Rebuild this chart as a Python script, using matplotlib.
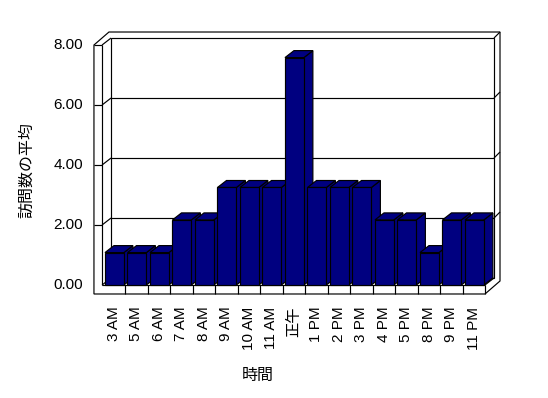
import matplotlib
matplotlib.use("Agg")
import matplotlib.pyplot as plt
from matplotlib.patches import Polygon

categories = ["3 AM", "5 AM", "6 AM", "7 AM", "8 AM", "9 AM", "10 AM", "11 AM", "正午",
              "1 PM", "2 PM", "3 PM", "4 PM", "5 PM", "8 PM", "9 PM", "11 PM"]
values = [1.08, 1.08, 1.08, 2.17, 2.17, 3.25, 3.25, 3.25, 7.58,
          3.25, 3.25, 3.25, 2.17, 2.17, 1.08, 2.17, 2.17]
yticks = [0, 2, 4, 6, 8]
ytick_labels = ["0.00", "2.00", "4.00", "6.00", "8.00"]
xlabel = "時間"
ylabel = "訪問数の平均"

FAM = ["Liberation Sans", "Noto Sans CJK JP", "DejaVu Sans"]
plt.rcParams["font.family"] = FAM

fig = plt.figure(figsize=(5.48, 3.98), dpi=100)
ax = fig.add_axes([0, 0, 1, 1])
ax.set_xlim(-5.056, 19.3)
ax.set_ylim(-3.767, 9.5)
ax.axis("off")

n = len(categories)
ymax = 8
d1x, d1y = 0.4, 0.233     # depth to back-wall face
d2x, d2y = 0.667, 0.433   # depth to back of wall
xl, xo = -0.52, -0.88     # left wall inner / outer
xr = n - 0.5
vb = -0.3                 # floor slab bottom
LW = 0.85
K = "black"

def line(xs, ys, z=2):
    ax.plot(xs, ys, color=K, lw=LW, zorder=z, solid_capstyle="butt")

# silhouette
ax.add_patch(Polygon([(xo, vb), (xo, ymax), (xo + d2x, ymax + d2y), (xr + d2x, ymax + d2y),
                      (xr + d2x, vb + d2y), (xr, vb)], closed=True, facecolor="white",
                     edgecolor=K, lw=LW, zorder=1))
# back wall face
ax.add_patch(Polygon([(xl + d1x, d1y), (xl + d1x, ymax + d1y), (xr + d1x, ymax + d1y),
                      (xr + d1x, d1y)], closed=True, facecolor="white", edgecolor=K,
                     lw=LW, zorder=1.5))
# left wall inner edge & top
line([xl, xl], [0, ymax])
line([xo, xl], [ymax, ymax])
line([xl, xl + d1x], [ymax, ymax + d1y])
line([xr + d1x, xr + d2x], [ymax + d1y, ymax + d2y])
# floor
line([xl, xr], [0, 0])
line([xl, xl + d1x], [0, d1y])
line([xr, xr + d1x], [0, d1y])
line([xr, xr], [vb, 0])
for i in range(n - 1):
    line([i + 0.5, i + 0.5], [vb, 0])
# gridlines
for v in yticks[1:-1]:
    line([xl + d1x, xr + d1x], [v + d1y, v + d1y])
    line([xl, xl + d1x], [v, v + d1y])
    line([xo, xl], [v, v])
    line([xr + d1x, xr + d2x], [v + d1y, v + d2y])

# bars
bw = 0.84
navy = "#000080"
for i, h in enumerate(values):
    left = i - 0.39
    right = left + bw
    z = 3 + i * 0.01
    ax.add_patch(Polygon([(right, 0), (right + d1x, d1y), (right + d1x, h + d1y), (right, h)],
                         closed=True, facecolor=navy, edgecolor=K, lw=LW, zorder=z))
    ax.add_patch(Polygon([(left, h), (right, h), (right + d1x, h + d1y), (left + d1x, h + d1y)],
                         closed=True, facecolor=navy, edgecolor=K, lw=LW, zorder=z + 0.001))
    ax.add_patch(Polygon([(left, 0), (right, 0), (right, h), (left, h)],
                         closed=True, facecolor=navy, edgecolor=K, lw=LW, zorder=z + 0.002))

# tick labels
for v, lab in zip(yticks, ytick_labels):
    ax.text(-1.367, v, lab, ha="right", va="center", fontsize=11, family=FAM)
for i, lab in enumerate(categories):
    ax.text(i, -0.72, lab, rotation=90, ha="center", va="top", fontsize=11, family=FAM)

ax.text(-3.856, 3.833, ylabel, rotation=90, ha="center", va="center", fontsize=11.5, family=FAM)
ax.text(6.42, -3.0, xlabel, ha="center", va="center", fontsize=11.5, family=FAM)

fig.savefig("out.png", dpi=100)
